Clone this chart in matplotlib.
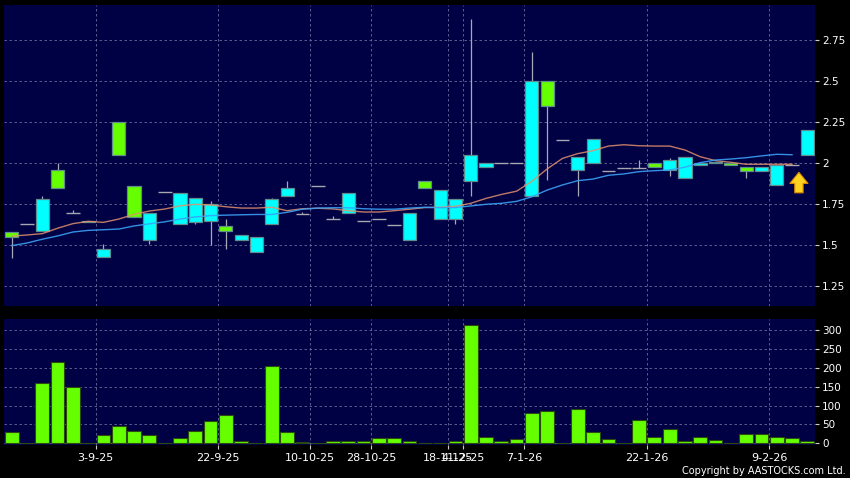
import numpy as np
import matplotlib
matplotlib.use("Agg")
import matplotlib.pyplot as plt
from matplotlib.ticker import FormatStrFormatter

# daily candles
opens = [1.58, 1.63, 1.59, 1.96, 1.70, 1.65, 1.43, 2.25, 1.86, 1.53,
         1.825, 1.63, 1.64, 1.65, 1.62, 1.53, 1.46, 1.63, 1.80, 1.69,
         1.86, 1.66, 1.70, 1.65, 1.66, 1.625, 1.53, 1.89, 1.66, 1.66,
         1.89, 1.98, 2.00, 2.00, 1.80, 2.50, 2.14, 1.96, 2.00, 1.95,
         1.97, 1.97, 2.00, 1.96, 1.91, 1.99, 2.01, 2.00, 1.98, 1.95,
         1.87, 1.99, 2.05]
highs = [1.58, 1.63, 1.80, 2.00, 1.715, 1.65, 1.51, 2.25, 1.86, 1.70,
         1.825, 1.82, 1.79, 1.77, 1.66, 1.56, 1.55, 1.79, 1.89, 1.705,
         1.86, 1.68, 1.82, 1.65, 1.66, 1.625, 1.70, 1.89, 1.84, 1.78,
         2.88, 2.00, 2.00, 2.00, 2.68, 2.50, 2.14, 2.04, 2.15, 1.95,
         1.97, 2.02, 2.00, 2.03, 2.04, 2.00, 2.01, 2.00, 1.98, 1.98,
         1.99, 1.99, 2.20]
lows = [1.42, 1.63, 1.59, 1.85, 1.70, 1.64, 1.43, 2.05, 1.67, 1.51,
        1.825, 1.63, 1.63, 1.50, 1.48, 1.53, 1.46, 1.63, 1.80, 1.69,
        1.86, 1.66, 1.70, 1.65, 1.66, 1.625, 1.53, 1.85, 1.66, 1.63,
        1.80, 1.98, 2.00, 2.00, 1.80, 1.90, 2.14, 1.80, 2.00, 1.95,
        1.97, 1.97, 1.98, 1.92, 1.91, 1.99, 2.00, 1.99, 1.91, 1.95,
        1.87, 1.99, 2.05]
closes = [1.55, 1.63, 1.78, 1.85, 1.70, 1.64, 1.48, 2.05, 1.67, 1.70,
          1.825, 1.82, 1.79, 1.75, 1.59, 1.56, 1.55, 1.78, 1.85, 1.69,
          1.86, 1.66, 1.82, 1.65, 1.66, 1.625, 1.70, 1.85, 1.84, 1.78,
          2.05, 2.00, 2.00, 2.00, 2.50, 2.35, 2.14, 2.04, 2.15, 1.95,
          1.97, 1.97, 1.98, 2.02, 2.04, 2.00, 2.00, 1.99, 1.95, 1.98,
          1.99, 1.99, 2.20]
volumes = [30, 1, 160, 216, 148, 2, 22, 46, 34, 22,
           1, 14, 34, 58, 74, 5, 1, 204, 31, 3,
           1, 5, 5, 5, 14, 14, 5, 1, 2, 5,
           312, 16, 5, 11, 81, 85, 1, 90, 29, 11,
           1, 63, 16, 37, 5, 18, 9, 1, 25, 25,
           16, 14, 7]

# moving averages (orange = short, blue = long)
ma_short = [1.556, 1.563, 1.571, 1.604, 1.632, 1.646, 1.64, 1.66, 1.689, 1.709,
            1.721, 1.741, 1.75, 1.746, 1.735, 1.727, 1.727, 1.732, 1.711, 1.723,
            1.726, 1.722, 1.711, 1.703, 1.703, 1.711, 1.72, 1.73, 1.732, 1.738,
            1.756, 1.786, 1.81, 1.83, 1.89, 1.966, 2.03, 2.059, 2.077, 2.105,
            2.113, 2.107, 2.105, 2.105, 2.081, 2.04, 2.016, 2.006, 1.994, 1.994,
            1.994, 1.994]
ma_long = [1.498, 1.514, 1.537, 1.557, 1.581, 1.591, 1.595, 1.599, 1.618, 1.631,
           1.643, 1.66, 1.673, 1.681, 1.684, 1.686, 1.688, 1.688, 1.701, 1.72,
           1.727, 1.729, 1.729, 1.723, 1.72, 1.72, 1.727, 1.732, 1.729, 1.73,
           1.74, 1.75, 1.756, 1.768, 1.796, 1.837, 1.868, 1.894, 1.904, 1.927,
           1.935, 1.949, 1.955, 1.959, 1.976, 2.004, 2.02, 2.026, 2.034, 2.045,
           2.055, 2.052]

date_ticks = [5.5, 13.5, 19.5, 23.5, 28.5, 29.5, 33.5, 41.5, 49.5]
date_labels = ["3-9-25", "22-9-25", "10-10-25", "28-10-25", "18-11-25",
               "4-12-25", "7-1-26", "22-1-26", "9-2-26"]
price_ticks = [1.25, 1.5, 1.75, 2.0, 2.25, 2.5, 2.75]
vol_ticks = [0, 50, 100, 150, 200, 250, 300]

BG = "#000044"
GRID = "#6a6a9c"
UP = "#00ffff"
DOWN = "#66ff00"

W, H = 850, 478
fig = plt.figure(figsize=(W / 100, H / 100), dpi=100, facecolor="black")
ax1 = fig.add_axes([4 / W, 1 - 306 / H, 811 / W, 301 / H])
ax2 = fig.add_axes([4 / W, 1 - 444.5 / H, 811 / W, 125.5 / H])

o = np.array(opens)
c = np.array(closes)
hi = np.array(highs)
lo = np.array(lows)
x = np.arange(len(o))

for ax in (ax1, ax2):
    ax.set_facecolor(BG)
    for s in ax.spines.values():
        s.set_visible(False)
    ax.set_xlim(-0.5, len(o) - 0.5)
    ax.set_xticks(date_ticks)
    ax.grid(True, color=GRID, linestyle=(0, (3, 3)), linewidth=0.6)
    ax.set_axisbelow(True)
    ax.yaxis.tick_right()
    ax.tick_params(axis="y", colors="#cccccc", labelcolor="white",
                   labelsize=7.5, length=3, width=0.8, pad=2)

# wicks
ax1.vlines(x, lo, hi, color="#a8a8b8", linewidth=0.9, zorder=2)

# bodies
flat = o == c
body_col = np.where(c > o, UP, DOWN)
ax1.bar(x[~flat], np.abs(c - o)[~flat], bottom=np.minimum(o, c)[~flat],
        width=0.86, color=body_col[~flat], edgecolor="#5f8c8c",
        linewidth=0.9, zorder=3)
ax1.hlines(c[flat], x[flat] - 0.45, x[flat] + 0.45, color="#a8a8b0",
           linewidth=1.0, zorder=3)

# moving averages
ax1.plot(np.arange(len(ma_short)), ma_short, color="#e0906c", linewidth=1.0,
         alpha=0.85, zorder=4)
ax1.plot(np.arange(len(ma_long)), ma_long, color="#3aa0f5", linewidth=1.0,
         alpha=0.9, zorder=4)

# last-day marker arrow
last = len(ma_short) - 1
ax1.annotate("", xy=(last + 0.45, c[last] - 0.045), xytext=(last + 0.45, c[last] - 0.17),
             arrowprops=dict(arrowstyle="simple,head_width=1.3,head_length=0.8,tail_width=0.6",
                             fc="#ffd21f", ec="#d98a00", lw=0.8, mutation_scale=10,
                             shrinkA=0, shrinkB=0),
             zorder=5)

ax1.set_ylim(1.13, 2.965)
ax1.set_yticks(price_ticks)
ax1.yaxis.set_major_formatter(FormatStrFormatter("%g"))
ax1.tick_params(axis="x", length=0, labelbottom=False)

# volume
ax2.bar(x, volumes, width=0.9, color=DOWN, edgecolor="#2a4a10",
        linewidth=0.8, zorder=3)
ax2.set_ylim(-3, 329)
ax2.set_yticks(vol_ticks)
ax2.set_xticklabels(date_labels)
ax2.tick_params(axis="x", colors="#cccccc", labelcolor="white",
                labelsize=8, length=3, width=0.8, pad=3)

fig.text(846 / W, 1 - 471 / H, "Copyright by AASTOCKS.com Ltd.", ha="right",
         va="center", fontsize=7, color="white")

fig.savefig("out.png", dpi=100, facecolor="black")
